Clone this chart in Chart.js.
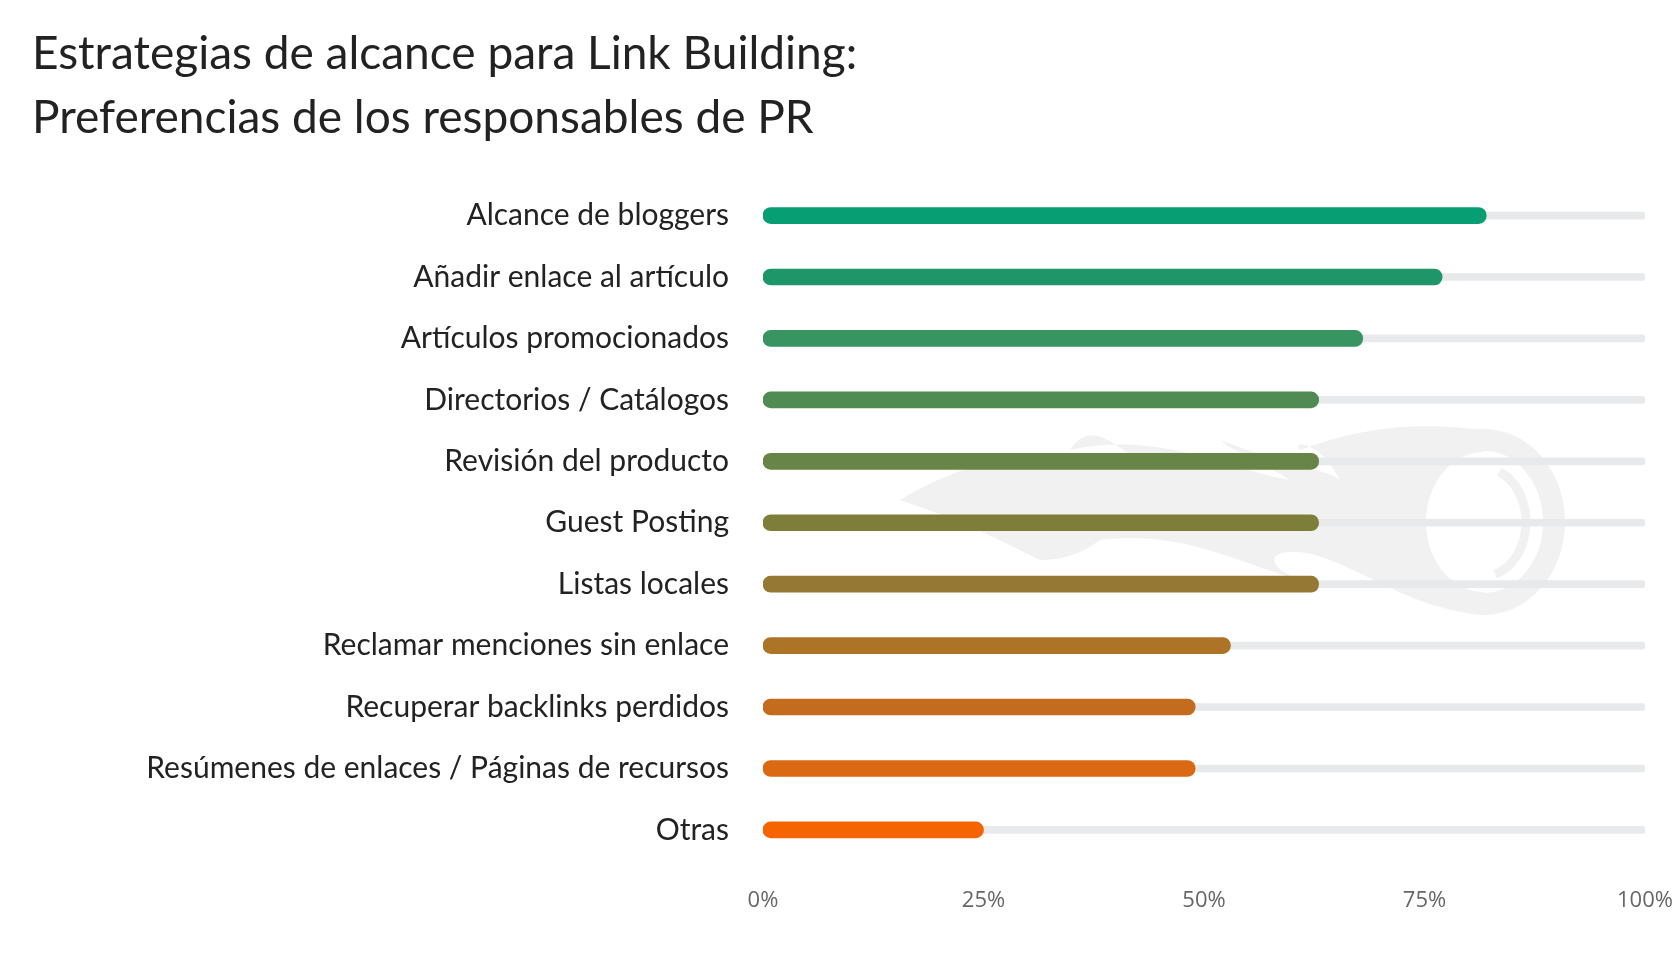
<!DOCTYPE html>
<html>
<head>
<meta charset="utf-8">
<script src="https://cdn.jsdelivr.net/npm/chart.js@4.4.1/dist/chart.umd.min.js"></script>
<style>
  html, body { margin: 0; padding: 0; background: #fff; }
  .wrap { position: relative; width: 1680px; height: 960px; }
</style>
</head>
<body>
<div class="wrap">
  <canvas id="linkChart" width="1680" height="960"></canvas>
</div>
<script>
// data
const strategies = [
  'Alcance de bloggers',
  'Añadir enlace al artículo',
  'Artículos promocionados',
  'Directorios / Catálogos',
  'Revisión del producto',
  'Guest Posting',
  'Listas locales',
  'Reclamar menciones sin enlace',
  'Recuperar backlinks perdidos',
  'Resúmenes de enlaces / Páginas de recursos',
  'Otras'
];
const shares = [82, 77, 68, 63, 63, 63, 63, 53, 49, 49, 25];
const trackValues = [100, 100, 100, 100, 100, 100, 100, 100, 100, 100, 100];
const barColors = [
  '#079e73', '#1f9669', '#389460', '#4f8b52', '#678546',
  '#7e7e3b', '#947833', '#ad7427', '#c46c1d', '#db6812', '#f56400'
];
const xTicks = [0, 25, 50, 75, 100];

// light logo watermark behind the bars
const watermark = {
  id: 'watermark',
  beforeDatasetsDraw(chart) {
    const ctx = chart.ctx;
    ctx.save();
    ctx.fillStyle = '#f1f1f1';
    ctx.strokeStyle = '#f1f1f1';
    // flame
    ctx.beginPath();
    ctx.moveTo(900, 500);
    ctx.bezierCurveTo(980, 450, 1080, 440, 1150, 470);
    ctx.bezierCurveTo(1110, 440, 1090, 420, 1070, 450);
    ctx.bezierCurveTo(1160, 430, 1230, 470, 1290, 480);
    ctx.bezierCurveTo(1250, 455, 1230, 450, 1220, 440);
    ctx.bezierCurveTo(1300, 470, 1330, 470, 1340, 480);
    ctx.bezierCurveTo(1320, 440, 1290, 440, 1300, 450);
    ctx.bezierCurveTo(1380, 420, 1440, 425, 1484, 430);
    ctx.lineTo(1484, 615);
    ctx.bezierCurveTo(1420, 610, 1380, 580, 1330, 560);
    ctx.bezierCurveTo(1280, 540, 1250, 560, 1300, 580);
    ctx.bezierCurveTo(1230, 560, 1180, 530, 1100, 540);
    ctx.bezierCurveTo(1080, 555, 1060, 560, 1040, 560);
    ctx.bezierCurveTo(1000, 540, 960, 520, 900, 500);
    ctx.closePath();
    ctx.fill();
    // ring
    ctx.lineWidth = 22;
    ctx.beginPath();
    ctx.ellipse(1484, 522, 70, 82, 0, 0, Math.PI * 2);
    ctx.stroke();
    ctx.fillStyle = '#ffffff';
    ctx.beginPath();
    ctx.ellipse(1484, 522, 58, 70, 0, 0, Math.PI * 2);
    ctx.fill();
    ctx.lineWidth = 9;
    ctx.strokeStyle = '#f1f1f1';
    ctx.beginPath();
    ctx.ellipse(1484, 522, 42, 54, 0, -1.2, 1.3);
    ctx.stroke();
    ctx.restore();
  }
};

const ctx = document.getElementById('linkChart').getContext('2d');
new Chart(ctx, {
  type: 'bar',
  data: {
    labels: strategies,
    datasets: [
      {
        label: 'Preferencia',
        data: shares,
        backgroundColor: barColors,
        barThickness: 16,
        borderRadius: 8,
        borderSkipped: false,
        grouped: false,
        order: 1
      },
      {
        label: 'Total',
        data: trackValues,
        backgroundColor: '#e8e9eb',
        barThickness: 7,
        borderRadius: 3,
        borderSkipped: false,
        grouped: false,
        order: 2
      }
    ]
  },
  options: {
    indexAxis: 'y',
    responsive: false,
    animation: false,
    layout: { padding: { left: 32, right: 35, top: 0, bottom: 27 } },
    plugins: {
      legend: { display: false },
      tooltip: { enabled: false },
      title: {
        display: true,
        text: ['Estrategias de alcance para Link Building:', 'Preferencias de los responsables de PR'],
        align: 'start',
        color: '#222222',
        font: { family: 'Lato', size: 46, weight: 'normal', lineHeight: 1.39 },
        padding: { top: 22, bottom: 35 }
      }
    },
    scales: {
      x: {
        min: 0,
        max: 100,
        afterBuildTicks(axis) {
          axis.ticks = xTicks.map(v => ({ value: v }));
        },
        afterFit(axis) {
          axis.paddingLeft = 0;
          axis.paddingRight = 0;
        },
        grid: { display: false },
        border: { display: false },
        ticks: {
          color: '#666666',
          padding: 19,
          font: { family: 'Open Sans', size: 22 },
          callback: v => v + '%'
        }
      },
      y: {
        afterFit(axis) { axis.width = 731; },
        grid: { display: false },
        border: { display: false },
        ticks: {
          color: '#222222',
          padding: 26,
          font: { family: 'Lato', size: 30 }
        }
      }
    }
  },
  plugins: [watermark]
});
</script>
</body>
</html>
